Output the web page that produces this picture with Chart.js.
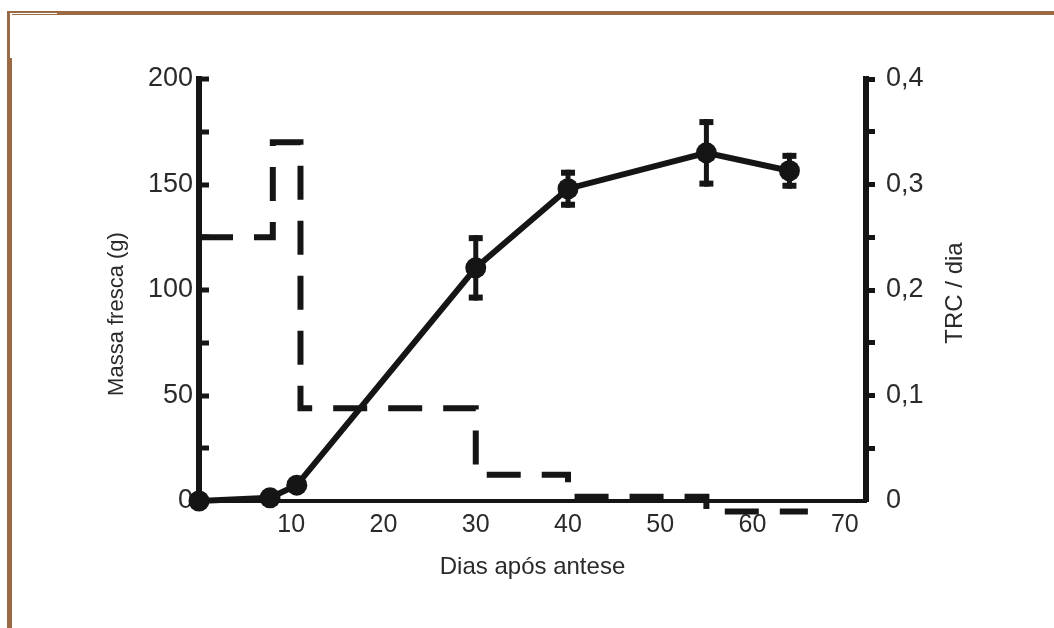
<!DOCTYPE html>
<html>
<head>
<meta charset="utf-8">
<title>Massa fresca e TRC</title>
<script src="https://cdn.jsdelivr.net/npm/chart.js@4.4.1/dist/chart.umd.min.js"></script>
<style>
    html, body { margin: 0; padding: 0; background: #fff; }
    #wrap { position: relative; width: 1054px; height: 628px; overflow: hidden; background: #fff; }
    #chart { position: absolute; left: 0; top: 0; }
    .frame-top { position: absolute; left: 7px; top: 11px; right: 0; height: 4px; background: #9a6a45; }
    .frame-left { position: absolute; left: 7px; top: 11px; width: 5px; bottom: 0; background: #9a6a45; }
    .nick-h { position: absolute; left: 10px; top: 13px; width: 47px; height: 1px; background: #fff; }
    .nick-v { position: absolute; left: 10px; top: 13px; width: 2px; height: 45px; background: #fff; }
</style>
</head>
<body>
<div id="wrap">
    <canvas id="chart" width="1054" height="628"></canvas>
    <div class="frame-top"></div>
    <div class="frame-left"></div>
    <div class="nick-h"></div>
    <div class="nick-v"></div>
</div>
<script>
// Massa fresca (g) ao longo dos dias
const massDays = [0, 7.7, 10.6, 30, 40, 55, 64];
const massValues = [0, 1.5, 7.5, 110.5, 148, 165, 156.5];
const massErrors = [0, 0, 0, 15.5, 9, 16, 8.5];

// TRC / dia (degraus)
const trcDays = [0, 8, 11, 30, 40, 55, 66];
const trcValues = [0.25, 0.34, 0.088, 0.025, 0.004, -0.01, -0.01];

// tick labels
const xTicks = [10, 20, 30, 40, 50, 60, 70];
const massTicks = [0, 50, 100, 150, 200];
const trcTicks = [0, 0.1, 0.2, 0.3, 0.4];

const INK = '#151515';
const TEXT = '#2a2a2a';
const FONT = "'Liberation Sans', Arial, sans-serif";

// error bars, inward ticks on the left axis, rotated axis titles
const extras = {
    id: 'extras',
    afterDatasetsDraw(chart) {
        const ctx = chart.ctx;
        const x = chart.scales.x;
        const y = chart.scales.y;
        ctx.save();
        ctx.strokeStyle = INK;
        ctx.fillStyle = INK;
        ctx.lineWidth = 5;
        massDays.forEach((d, i) => {
            const e = massErrors[i];
            if (!e) return;
            const px = x.getPixelForValue(d);
            const top = y.getPixelForValue(massValues[i] + e);
            const bot = y.getPixelForValue(massValues[i] - e);
            ctx.beginPath();
            ctx.moveTo(px, top);
            ctx.lineTo(px, bot);
            ctx.stroke();
            ctx.fillRect(px - 7, top, 14, 6);
            ctx.fillRect(px - 7, bot - 6, 14, 6);
        });
        ctx.restore();
    },
    afterDraw(chart) {
        const ctx = chart.ctx;
        const y = chart.scales.y;
        const area = chart.chartArea;
        ctx.save();
        ctx.strokeStyle = INK;
        ctx.lineWidth = 5;
        y.ticks.forEach(t => {
            if (t.value === 0) return;
            const py = Math.round(y.getPixelForValue(t.value));
            ctx.beginPath();
            ctx.moveTo(area.left, py);
            ctx.lineTo(area.left + 10, py);
            ctx.stroke();
        });

        ctx.fillStyle = TEXT;
        ctx.textAlign = 'center';
        ctx.textBaseline = 'middle';
        ctx.font = '22px ' + FONT;
        ctx.translate(117, 314);
        ctx.rotate(-Math.PI / 2);
        ctx.fillText('Massa fresca (g)', 0, 0);
        ctx.setTransform(1, 0, 0, 1, 0, 0);
        ctx.font = '24px ' + FONT;
        ctx.translate(955, 293);
        ctx.rotate(-Math.PI / 2);
        ctx.fillText('TRC / dia', 0, 0);
        ctx.restore();
    }
};

const ctx = document.getElementById('chart').getContext('2d');

new Chart(ctx, {
    type: 'line',
    data: {
        datasets: [
            {
                label: 'Massa fresca',
                data: massDays.map((d, i) => ({ x: d, y: massValues[i] })),
                yAxisID: 'y',
                borderColor: INK,
                borderWidth: 6,
                pointRadius: 10.5,
                pointBackgroundColor: INK,
                pointBorderWidth: 0,
                tension: 0,
                clip: false
            },
            {
                label: 'TRC',
                data: trcDays.map((d, i) => ({ x: d, y: trcValues[i] })),
                yAxisID: 'y1',
                stepped: 'before',
                borderColor: INK,
                borderWidth: 6,
                borderDash: [34, 21],
                borderCapStyle: 'butt',
                pointRadius: 0,
                clip: false
            }
        ]
    },
    options: {
        responsive: false,
        animation: false,
        layout: { padding: { left: 102, right: 79, top: 79, bottom: 42 } },
        plugins: {
            legend: { display: false },
            tooltip: { enabled: false }
        },
        scales: {
            x: {
                type: 'linear',
                min: 0,
                max: 72.3,
                afterFit: s => { s.height = 85; },
                grid: { display: false, drawTicks: false },
                border: { display: true, color: INK, width: 4 },
                ticks: {
                    stepSize: 10,
                    includeBounds: false,
                    autoSkip: false,
                    maxRotation: 0,
                    padding: 9,
                    color: TEXT,
                    font: { family: FONT, size: 25 },
                    callback: v => xTicks.includes(v) ? String(v) : ''
                },
                title: {
                    display: true,
                    text: 'Dias após antese',
                    color: TEXT,
                    font: { family: FONT, size: 24 },
                    padding: { top: 0, bottom: 4 }
                }
            },
            y: {
                position: 'left',
                min: 0,
                max: 200,
                afterFit: s => { s.width = 97; },
                grid: { display: false, drawTicks: false },
                border: { display: true, color: INK, width: 6 },
                ticks: {
                    stepSize: 25,
                    padding: 6,
                    color: TEXT,
                    font: { family: FONT, size: 27 },
                    callback: v => massTicks.includes(v) ? String(v) : ''
                }
            },
            y1: {
                position: 'right',
                min: 0,
                max: 0.4,
                afterFit: s => { s.width = 109; },
                grid: {
                    display: true,
                    drawOnChartArea: false,
                    drawTicks: true,
                    tickLength: 9,
                    tickWidth: 5,
                    tickColor: c => (c.tick && Math.abs(c.tick.value) < 1e-9) ? 'rgba(0,0,0,0)' : INK
                },
                border: { display: true, color: INK, width: 6 },
                ticks: {
                    stepSize: 0.05,
                    padding: 11,
                    color: TEXT,
                    font: { family: FONT, size: 27 },
                    callback: v => {
                        const t = trcTicks.find(t => Math.abs(t - v) < 1e-6);
                        if (t === undefined) return '';
                        return t === 0 ? '0' : t.toFixed(1).replace('.', ',');
                    }
                }
            }
        }
    },
    plugins: [extras]
});
</script>
</body>
</html>
